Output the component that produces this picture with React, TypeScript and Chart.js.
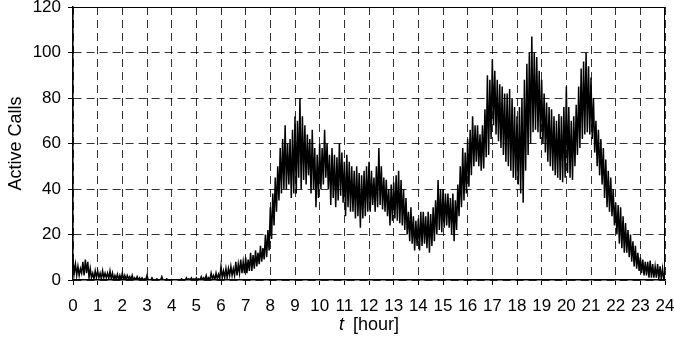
import React, { useEffect, useRef } from "react";
import { Chart, registerables } from "chart.js";

Chart.register(...registerables);

// Sampling grid: one reading every 0.1 h, from 0 to 24 h
const SAMPLE_STEP = 0.1;
// Upper envelope (local peaks) of the active-calls trace, per 0.1 h (one row per hour)
const upperCalls = [
  9, 7, 6, 5, 8, 9, 8, 5, 3, 4,
  4, 3, 4, 3, 3, 4, 3, 2, 2.5, 2,
  3, 2, 2, 1.5, 2, 1, 1.5, 1, 1, 0.5,
  2, 0, 1, 0, 0.5, 0, 1.5, 0, 0.5, 0,
  0, 0, 0, 0, 0.5, 0, 1, 0.5, 1, 0.5,
  1, 0.5, 1.5, 1, 2, 1, 3, 2, 3, 2.5,
  6, 4, 5, 5, 6, 5, 8, 7, 9, 8,
  10, 9, 12, 11, 13, 12, 15, 14, 20, 22,
  32, 38, 45, 50, 58, 62, 68, 60, 62, 66,
  72, 70, 80, 72, 68, 64, 62, 66, 58, 55,
  60, 58, 66, 60, 55, 58, 55, 54, 60, 56,
  52, 55, 52, 50, 48, 50, 47, 46, 48, 50,
  52, 48, 45, 50, 58, 50, 45, 44, 40, 42,
  43, 46, 48, 44, 40, 36, 30, 32, 28, 26,
  27, 30, 30, 28, 30, 29, 32, 35, 44, 40,
  40, 38, 38, 36, 38, 35, 42, 50, 58, 56,
  62, 66, 72, 68, 68, 64, 68, 75, 90, 88,
  97, 92, 88, 86, 85, 82, 82, 84, 80, 76,
  72, 76, 80, 88, 95, 100, 107, 100, 98, 92,
  88, 82, 78, 76, 75, 72, 70, 73, 72, 76,
  85, 76, 70, 72, 77, 85, 93, 96, 100, 94,
  89, 80, 70, 66, 62, 58, 53, 48, 45, 40,
  34, 33, 32, 28, 25, 22, 20, 17, 15, 12,
  10, 9, 8, 8, 8.5, 7, 6, 7, 6, 5,
  4,
];
// Lower envelope (local troughs) of the active-calls trace, per 0.1 h (one row per hour)
const lowerCalls = [
  3, 2, 2, 3, 2, 3, 1, 1, 0.5, 1,
  1, 0.5, 1, 1, 0.5, 0.5, 0, 0.5, 0, 0,
  0, 0, 0.5, 0, 0, 0, 0, 0, 0, 0,
  0, 0, 0, 0, 0, 0, 0, 0, 0, 0,
  0, 0, 0, 0, 0, 0, 0, 0, 0, 0,
  0, 0, 0, 0, 0, 0, 0.5, 0, 0.5, 0.5,
  1, 1, 1, 2, 2, 2, 2, 3, 3, 3,
  3, 4, 4, 5, 6, 7, 8, 9, 10, 13,
  18, 24, 30, 35, 38, 40, 40, 42, 36, 38,
  38, 45, 40, 44, 42, 46, 38, 40, 32, 36,
  40, 42, 45, 40, 33, 36, 32, 35, 37, 34,
  28, 32, 30, 30, 27, 28, 23, 27, 28, 30,
  30, 33, 30, 32, 33, 31, 30, 28, 24, 26,
  27, 26, 25, 24, 22, 20, 17, 16, 13, 15,
  13, 15, 16, 14, 12, 15, 17, 20, 22, 21,
  23, 24, 23, 20, 17, 22, 28, 32, 35, 38,
  41, 46, 50, 52, 50, 48, 49, 54, 55, 62,
  68, 64, 61, 58, 55, 52, 50, 48, 45, 44,
  42, 38, 34, 48, 55, 60, 65, 66, 65, 62,
  60, 56, 52, 50, 48, 46, 45, 44, 43, 45,
  47, 45, 44, 50, 55, 58, 62, 64, 65, 64,
  62, 56, 50, 46, 42, 36, 32, 30, 28, 24,
  20, 16, 14, 12, 12, 10, 8, 6, 5, 4,
  3, 2, 2, 1, 1, 1, 1, 0.5, 0.5, 0.5,
  0.5,
];
const X_MIN = 0;
const X_MAX = 24;
const X_STEP = 1;
const Y_MIN = 0;
const Y_MAX = 120;
const Y_STEP = 20;
const Y_TITLE = "Active Calls";
const X_TITLE_VAR = "t";
const X_TITLE_UNIT = "[hour]";

const FONT = '"Liberation Sans", Arial, sans-serif';

function buildTrace() {
  const pts: { x: number; y: number }[] = [];
  for (let i = 0; i < upperCalls.length; i++) {
    const t = i * SAMPLE_STEP;
    pts.push({ x: t, y: upperCalls[i] });
    const tl = Math.min(X_MAX, t + SAMPLE_STEP / 2);
    pts.push({ x: tl, y: lowerCalls[i] });
  }
  return pts;
}

const framePlugin = {
  id: "frameAndTitle",
  afterDraw(chart: any) {
    const { ctx, chartArea } = chart;
    const { left, top, right, bottom } = chartArea;
    ctx.save();
    ctx.strokeStyle = "#000";
    ctx.lineWidth = 1;
    ctx.beginPath();
    ctx.moveTo(left, Math.round(top) + 0.5);
    ctx.lineTo(right, Math.round(top) + 0.5);
    ctx.moveTo(Math.round(right) - 0.5, top);
    ctx.lineTo(Math.round(right) - 0.5, bottom);
    ctx.stroke();

    // x-axis title: italic variable + unit
    const cx = (left + right) / 2;
    const y = 325;
    ctx.fillStyle = "#000";
    ctx.textBaseline = "middle";
    ctx.font = `italic 18px ${FONT}`;
    const wVar = ctx.measureText(X_TITLE_VAR).width;
    ctx.font = `18px ${FONT}`;
    const gap = 9;
    const wUnit = ctx.measureText(X_TITLE_UNIT).width;
    const total = wVar + gap + wUnit;
    const x0 = cx - total / 2;
    ctx.textAlign = "left";
    ctx.font = `italic 18px ${FONT}`;
    ctx.fillText(X_TITLE_VAR, x0, y);
    ctx.font = `18px ${FONT}`;
    ctx.fillText(X_TITLE_UNIT, x0 + wVar + gap, y);
    ctx.restore();
  },
};

export default function App() {
  const canvasRef = useRef<HTMLCanvasElement | null>(null);

  useEffect(() => {
    document.body.style.margin = "0";
    const canvas = canvasRef.current;
    if (!canvas) return;
    const chart = new Chart(canvas, {
      type: "line",
      data: {
        datasets: [
          {
            label: Y_TITLE,
            data: buildTrace(),
            borderColor: "#000",
            borderWidth: 1.5,
            pointRadius: 0,
            tension: 0,
            fill: false,
          },
        ],
      },
      options: {
        responsive: false,
        animation: false,
        events: [],
        layout: { padding: { left: 0, right: 9, top: 7, bottom: 0 } },
        plugins: {
          legend: { display: false },
          tooltip: { enabled: false },
          title: { display: false },
        },
        scales: {
          x: {
            type: "linear",
            min: X_MIN,
            max: X_MAX,
            ticks: {
              stepSize: X_STEP,
              autoSkip: false,
              maxRotation: 0,
              padding: 11,
              color: "#000",
              font: { family: FONT, size: 17 },
            },
            grid: {
              color: "rgba(0,0,0,0.8)",
              lineWidth: 1,
              tickLength: 5,
              tickColor: "#000",
            },
            border: { display: true, color: "#000", width: 1.6, dash: [8, 5] },
            afterFit(scale: any) {
              scale.height = 343 - 280;
              scale.paddingLeft = 0;
              scale.paddingRight = 0;
            },
          },
          y: {
            type: "linear",
            min: Y_MIN,
            max: Y_MAX,
            ticks: {
              stepSize: Y_STEP,
              padding: 7,
              color: "#000",
              font: { family: FONT, size: 17 },
            },
            grid: {
              color: "rgba(0,0,0,0.8)",
              lineWidth: 1,
              tickLength: 5,
              tickColor: "#000",
            },
            border: { display: true, color: "#000", width: 1.6, dash: [8, 5] },
            title: {
              display: true,
              text: Y_TITLE,
              color: "#000",
              font: { family: FONT, size: 18 },
              padding: { top: 5, bottom: 0 },
            },
            afterFit(scale: any) {
              scale.width = 73;
              scale.paddingTop = 0;
              scale.paddingBottom = 0;
            },
          },
        },
      },
      plugins: [framePlugin],
    });
    return () => chart.destroy();
  }, []);

  return (
    <div style={{ position: "absolute", left: 0, top: 0, width: 674, height: 343 }}>
      <canvas ref={canvasRef} width={674} height={343} />
    </div>
  );
}
